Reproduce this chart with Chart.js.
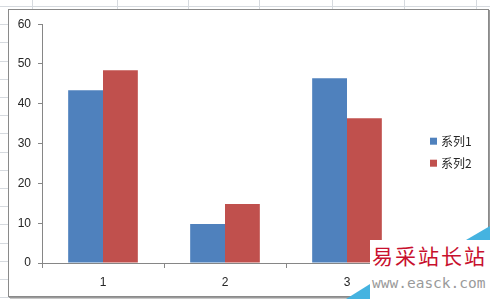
<!DOCTYPE html>
<html>
<head>
<meta charset="utf-8">
<script src="https://cdn.jsdelivr.net/npm/chart.js@4/dist/chart.umd.min.js"></script>
<style>
  html, body { margin: 0; padding: 0; }
  body { width: 490px; height: 299px; position: relative; overflow: hidden; background: #fff; }
  .sheet { position: absolute; left: 0; top: 0; width: 490px; height: 299px; }
  .hline { position: absolute; left: 0; width: 490px; height: 1px; background: #d6dadf; }
  .vline { position: absolute; top: 0; height: 299px; width: 1px; background: #d6dadf; }
  #frame { position: absolute; left: 8px; top: 9px; width: 479px; height: 286px;
           border: 1px solid #8a8a8a; background: #fff;
           box-shadow: 1px 1px 0 #9a9a9a, 2px 2px 0 #c8c8c8; }
  #frame canvas { position: absolute; left: 0; top: 0; }
  #wm { position: absolute; left: 370px; top: 240px; width: 120px; height: 59px; background: #fff; }
  #wm .cn { position: absolute; left: 2px; top: 2px; font-family: 'Noto Sans CJK SC'; font-size: 21px;
            color: #c8102e; letter-spacing: 2px; line-height: 26px; white-space: nowrap; }
  #wm .en { position: absolute; left: 2px; top: 34px; font-family: 'DejaVu Sans Mono', monospace; font-size: 14.5px;
            color: #9a9a9a; line-height: 18px; white-space: nowrap; }
  .tri1 { position: absolute; left: 466px; top: 226px; width: 24px; height: 14px; background: #45b3e0;
          clip-path: polygon(0 100%, 100% 0, 100% 100%); }
  .tri2 { position: absolute; left: 346px; top: 284px; width: 24px; height: 15px; background: #45b3e0;
          clip-path: polygon(0 100%, 100% 0, 100% 100%); }
</style>
</head>
<body>
<div class="sheet" id="sheet"></div>
<div id="frame"><canvas id="c" width="479" height="286"></canvas></div>
<div class="tri1"></div>
<div class="tri2"></div>
<div id="wm"><div class="cn">易采站长站</div><div class="en">www.easck.com</div></div>
<script>
// ---- data ----
const categories = ['1', '2', '3'];
const seriesNames = ['系列1', '系列2'];
const series1 = [43.4, 9.8, 46.4];
const series2 = [48.4, 14.8, 36.4];
const yTicks = [0, 10, 20, 30, 40, 50, 60];

// spreadsheet gridlines behind the chart
(function () {
  const sheet = document.getElementById('sheet');
  for (let i = 0; i < 17; i++) {
    const d = document.createElement('div');
    d.className = 'hline';
    d.style.top = Math.round(6 + i * 18.2) + 'px';
    sheet.appendChild(d);
  }
  [32, 117, 188, 259, 332, 404, 476].forEach(x => {
    const d = document.createElement('div');
    d.className = 'vline';
    d.style.left = x + 'px';
    sheet.appendChild(d);
  });
})();

const axisColor = '#868686';
const textColor = '#262626';
const fontFamily = "'Liberation Sans', 'Noto Sans CJK SC', sans-serif";
const colors = ['#4F81BD', '#C0504D'];

const sideLegend = {
  id: 'sideLegend',
  afterDraw(chart) {
    const ctx = chart.ctx;
    const area = chart.chartArea;
    ctx.save();
    ctx.font = "12px 'Noto Sans CJK SC', 'Liberation Sans', sans-serif";
    ctx.textBaseline = 'middle';
    ctx.textAlign = 'left';
    chart.data.datasets.forEach((ds, i) => {
      const x = area.right + 22;
      const y = area.top + 117 + i * 22;
      ctx.fillStyle = ds.backgroundColor;
      ctx.fillRect(x, y - 3.5, 7, 7);
      ctx.fillStyle = textColor;
      ctx.fillText(ds.label, x + 11, y);
    });
    ctx.restore();
  }
};

new Chart(document.getElementById('c'), {
  type: 'bar',
  data: {
    labels: categories,
    datasets: [
      { label: seriesNames[0], data: series1, backgroundColor: colors[0], borderWidth: 0 },
      { label: seriesNames[1], data: series2, backgroundColor: colors[1], borderWidth: 0 }
    ]
  },
  options: {
    responsive: false,
    animation: false,
    devicePixelRatio: 1,
    layout: { padding: { left: 0, right: 80, top: 14, bottom: 0 } },
    plugins: { legend: { display: false }, tooltip: { enabled: false } },
    datasets: { bar: { categoryPercentage: 0.571, barPercentage: 1 } },
    scales: {
      x: {
        offset: true,
        grid: { display: true, drawOnChartArea: false, drawTicks: true, tickLength: 5, color: axisColor, offset: true },
        border: { display: true, color: axisColor, width: 1 },
        ticks: { color: textColor, padding: 7, font: { family: fontFamily, size: 12 } },
        afterFit(s) { s.height = 33; }
      },
      y: {
        min: 0, max: 60,
        afterBuildTicks(s) { s.ticks = yTicks.map(v => ({ value: v })); },
        grid: { display: true, drawOnChartArea: false, drawTicks: true, tickLength: 4, color: axisColor },
        border: { display: true, color: axisColor, width: 1 },
        ticks: { color: textColor, padding: 7, font: { family: fontFamily, size: 12 } },
        afterFit(s) { s.width = 33; }
      }
    }
  },
  plugins: [sideLegend]
});
</script>
</body>
</html>
